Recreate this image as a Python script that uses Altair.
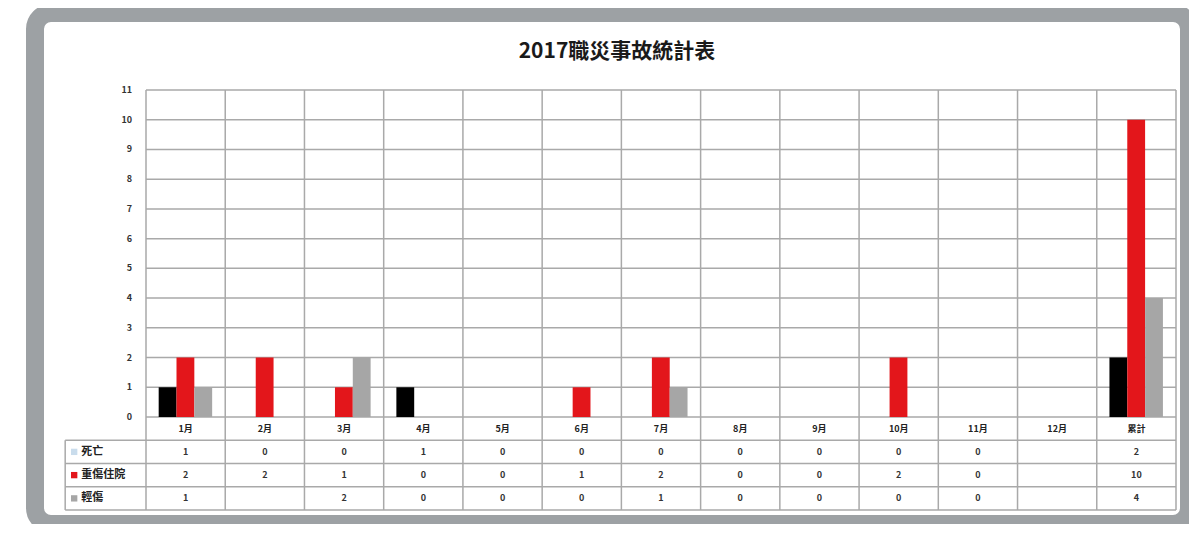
import altair as alt
import pandas as pd

TITLE = "2017職災事故統計表"
categories = ["1月", "2月", "3月", "4月", "5月", "6月", "7月", "8月", "9月", "10月", "11月", "12月", "累計"]
series_names = ["死亡", "重傷住院", "輕傷"]
death = [1, 0, 0, 1, 0, 0, 0, 0, 0, 0, 0, None, 2]
severe = [2, 2, 1, 0, 0, 1, 2, 0, 0, 2, 0, None, 10]
light = [1, None, 2, 0, 0, 0, 1, 0, 0, 0, 0, None, 4]
y_ticks = list(range(0, 12))

bar_colors = ["#000000", "#e3161b", "#a6a6a6"]
key_colors = ["#c9dcec", "#e3161b", "#a6a6a6"]
GRID = "#a9a9a9"
FONT = "Noto Sans CJK TC"
LABEL_COL = -1.02  # left edge of the data-table label column, in category units

values = [death, severe, light]
n = len(categories)

bar_rows, cell_rows = [], []
for j, s in enumerate(series_names):
    for i, c in enumerate(categories):
        v = values[j][i]
        if v is not None:
            bar_rows.append(dict(cat=c, idx=i, series=s, sidx=j, value=v))
        cell_rows.append(dict(cat=c, idx=i, series=s, row=j + 1,
                              text="" if v is None else str(v)))
bars_df = pd.DataFrame(bar_rows)
cells_df = pd.DataFrame(cell_rows)
head_df = pd.DataFrame(dict(cat=categories, idx=list(range(n))))
ticks_df = pd.DataFrame(dict(tick=y_ticks))
keys_df = pd.DataFrame(dict(series=series_names, row=[1, 2, 3]))

xs = alt.Scale(domain=[0, n], range=[111, 1141], zero=False, nice=False)
ys = alt.Scale(domain=[0, 11], range=[404, 77], zero=False, nice=False)
ts = alt.Scale(domain=[0, 4], range=[404, 497], zero=False, nice=False)

# ---------- plot area ----------
hgrid = alt.Chart(ticks_df).transform_calculate(x0="0", x1=str(n)).mark_rule(
    color=GRID, strokeWidth=1.5
).encode(
    x=alt.X("x0:Q", scale=xs, axis=None), x2="x1:Q",
    y=alt.Y("tick:Q", scale=ys, axis=None),
)
vgrid = alt.Chart(pd.DataFrame(dict(b=list(range(n + 1))))).transform_calculate(
    y0="0", y1="11"
).mark_rule(color=GRID, strokeWidth=1.5).encode(
    x=alt.X("b:Q", scale=xs, axis=None),
    y=alt.Y("y0:Q", scale=ys, axis=None), y2="y1:Q",
)
bars = alt.Chart(bars_df).transform_calculate(
    x0="datum.idx + 0.16 + datum.sidx * 0.225",
    x1="datum.idx + 0.385 + datum.sidx * 0.225",
    base="0",
).mark_rect().encode(
    x=alt.X("x0:Q", scale=xs, axis=None), x2="x1:Q",
    y=alt.Y("value:Q", scale=ys, axis=None), y2="base:Q",
    color=alt.Color("series:N", scale=alt.Scale(domain=series_names, range=bar_colors), legend=None),
)
ticklabels = alt.Chart(ticks_df).transform_calculate(x0="0").mark_text(
    align="right", baseline="middle", dx=-14, font=FONT, fontSize=9, fontWeight="bold", color="#333333"
).encode(
    x=alt.X("x0:Q", scale=xs, axis=None),
    y=alt.Y("tick:Q", scale=ys, axis=None),
    text="tick:Q",
)
plot = alt.layer(hgrid, vgrid, bars, ticklabels)

# ---------- data table ----------
thl = alt.Chart(pd.DataFrame(dict(r=[1, 2, 3, 4]))).transform_calculate(
    x0=str(LABEL_COL), x1=str(n)
).mark_rule(color=GRID, strokeWidth=1.5).encode(
    x=alt.X("x0:Q", scale=xs, axis=None), x2="x1:Q",
    y=alt.Y("r:Q", scale=ts, axis=None),
)
tvl = alt.Chart(pd.DataFrame(dict(b=list(range(n + 1))))).transform_calculate(
    r0="0", r1="4"
).mark_rule(color=GRID, strokeWidth=1.5).encode(
    x=alt.X("b:Q", scale=xs, axis=None),
    y=alt.Y("r0:Q", scale=ts, axis=None), y2="r1:Q",
)
tvl0 = alt.Chart(pd.DataFrame(dict(b=[LABEL_COL]))).transform_calculate(
    r0="1", r1="4"
).mark_rule(color=GRID, strokeWidth=1.5).encode(
    x=alt.X("b:Q", scale=xs, axis=None),
    y=alt.Y("r0:Q", scale=ts, axis=None), y2="r1:Q",
)
header = alt.Chart(head_df).transform_calculate(
    xc="datum.idx + 0.5", yc="0.5"
).mark_text(font=FONT, fontSize=9, fontWeight="bold", color="#222222", baseline="middle").encode(
    x=alt.X("xc:Q", scale=xs, axis=None),
    y=alt.Y("yc:Q", scale=ts, axis=None),
    text="cat:N",
)
cells = alt.Chart(cells_df).transform_calculate(
    xc="datum.idx + 0.5", yc="datum.row + 0.5"
).mark_text(font=FONT, fontSize=9, fontWeight="bold", color="#333333", baseline="middle").encode(
    x=alt.X("xc:Q", scale=xs, axis=None),
    y=alt.Y("yc:Q", scale=ts, axis=None),
    text="text:N",
)
keys = alt.Chart(keys_df).transform_calculate(
    xl=str(LABEL_COL), yc="datum.row + 0.5"
).mark_square(size=40, opacity=1).encode(
    x=alt.X("xl:Q", scale=xs, axis=None),
    y=alt.Y("yc:Q", scale=ts, axis=None),
    color=alt.Color("series:N", scale=alt.Scale(domain=series_names, range=key_colors), legend=None),
    xOffset=alt.value(9),
)
names = alt.Chart(keys_df).transform_calculate(
    xl=str(LABEL_COL), yc="datum.row + 0.5"
).mark_text(align="left", baseline="middle", dx=16, font=FONT, fontSize=11,
            fontWeight="bold", color="#222222").encode(
    x=alt.X("xl:Q", scale=xs, axis=None),
    y=alt.Y("yc:Q", scale=ts, axis=None),
    text="series:N",
)
table = alt.layer(thl, tvl, tvl0, header, cells, keys, names)

chart = alt.layer(plot, table).resolve_scale(
    y="independent", color="independent"
).properties(
    width=1154,
    height=511,
    padding={"left": 27, "top": 5, "right": 0, "bottom": 0},
    autosize=alt.AutoSizeParams(type="none"),
    background="white",
    title=alt.TitleParams(
        TITLE, font=FONT, fontSize=21, fontWeight="bold", color="#1a1a1a",
        anchor="middle", frame="group", offset=-60, baseline="middle", dx=5,
    ),
).configure_view(
    stroke="#9da1a4", strokeWidth=18, cornerRadius=16, fill="white"
)

chart.save("out.html", embed_options={"renderer": "svg", "actions": False})
